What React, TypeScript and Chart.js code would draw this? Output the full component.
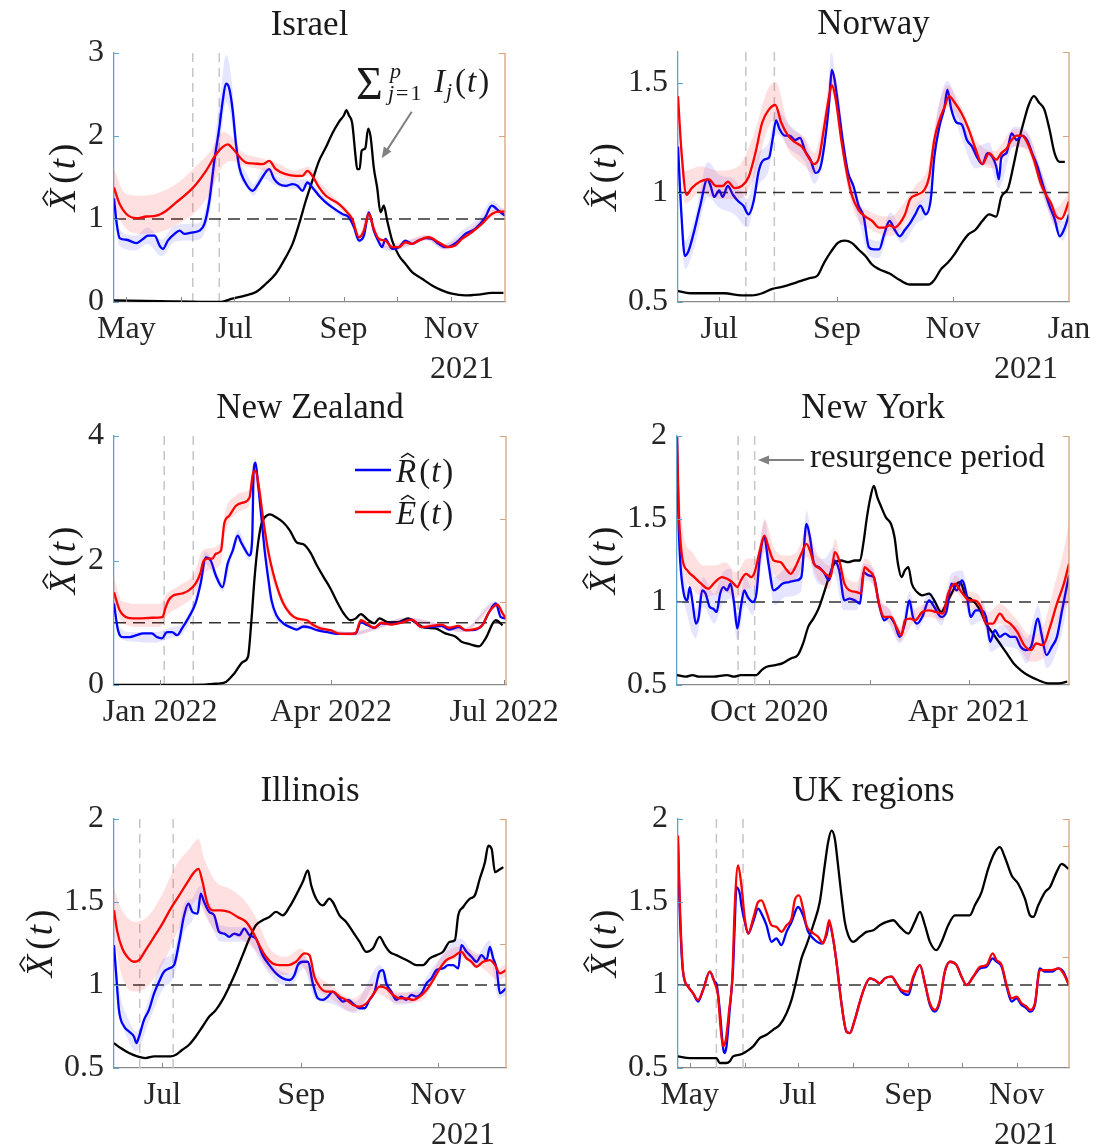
import { useEffect, useRef } from 'react';
import { Chart, registerables } from 'chart.js';

Chart.register(...registerables);

type Pt = [number, number];
type Band = [number, number, number];

// ---------- Israel (day 0 = 1 May 2021) ----------
const israelR: Pt[] = [
  [-7, 1.25], [-5.5, 0.95], [-3.8, 0.77], [0, 0.75], [5.6, 0.71], [9.4, 0.76], [12.2, 0.8], [16, 0.8],
  [18.8, 0.68], [20.7, 0.64], [23.5, 0.74], [27.3, 0.82], [30.1, 0.86], [32.9, 0.82], [37.6, 0.84],
  [41.4, 0.86], [44.2, 0.94], [47, 1.22], [49.8, 1.7], [52.7, 2.11], [54.6, 2.43], [56.4, 2.63],
  [58.3, 2.57], [60.2, 2.31], [62.1, 1.9], [64, 1.62], [66.8, 1.46], [71.5, 1.34], [75.2, 1.44],
  [78.1, 1.54], [80.9, 1.6], [83.7, 1.48], [86.5, 1.42], [90.3, 1.4], [94.1, 1.42], [96.9, 1.4],
  [99.7, 1.34], [102.5, 1.44], [105.3, 1.38], [109.1, 1.28], [112.9, 1.2], [116.6, 1.14], [122.3, 1.06],
  [126, 1.02], [128.9, 0.9], [131.7, 0.74], [134.5, 0.8], [137.3, 1.08], [140.1, 0.86], [143, 0.72],
  [144.8, 0.66], [146.7, 0.76], [150.5, 0.64], [154.3, 0.66], [158, 0.74], [161.8, 0.7], [165.5, 0.74],
  [169.3, 0.77], [173.1, 0.76], [176.8, 0.7], [180.6, 0.66], [184.3, 0.68], [188.1, 0.74], [191.9, 0.82],
  [197.5, 0.88], [203.2, 1.02], [206.9, 1.16], [210.7, 1.1], [214.4, 1.04],
];
const israelE: Pt[] = [
  [-7, 1.38], [-3.8, 1.18], [0, 1.06], [5.6, 1.01], [11.3, 1.03], [16.9, 1.04], [22.6, 1.1], [28.2, 1.2],
  [33.9, 1.3], [39.5, 1.42], [45.1, 1.58], [50.8, 1.78], [54.6, 1.87], [57.4, 1.9], [60.2, 1.85], [64, 1.75],
  [67.7, 1.68], [71.5, 1.67], [77.1, 1.66], [80.9, 1.7], [84.6, 1.6], [90.3, 1.54], [95.9, 1.52], [99.7, 1.52],
  [102.5, 1.58], [105.3, 1.52], [109.1, 1.38], [112.9, 1.28], [116.6, 1.23], [120.4, 1.18], [124.2, 1.1],
  [127.9, 1.0], [131.7, 0.78], [134.5, 0.86], [137.3, 1.06], [140.1, 0.88], [143, 0.76], [146.7, 0.74],
  [150.5, 0.66], [154.3, 0.66], [158, 0.72], [161.8, 0.7], [165.5, 0.74], [171.2, 0.78], [176.8, 0.72],
  [182.5, 0.66], [186.2, 0.68], [190, 0.76], [195.6, 0.84], [201.3, 0.94], [206.9, 1.06], [210.7, 1.09],
  [214.4, 1.09],
];
const israelI: Pt[] = [
  [-7, 0.02], [19, 0.01], [52.7, 0], [60, 0.04], [67.7, 0.08], [73.4, 0.12], [79, 0.22], [84.6, 0.34],
  [90.3, 0.54], [94.1, 0.7], [97.8, 0.94], [101.6, 1.22], [105.3, 1.46], [109.1, 1.7], [112.9, 1.86],
  [116.6, 2.03], [120.4, 2.17], [123.2, 2.25], [124.5, 2.31], [126, 2.25], [127.9, 2.15], [129.8, 1.75],
  [130.7, 1.6], [132.1, 1.6], [133.2, 1.82], [134.5, 1.84], [135.4, 1.86], [136.9, 2.09], [138.3, 1.99],
  [140.1, 1.62], [142, 1.38], [143.9, 1.08], [145.8, 1.16], [147.7, 0.98], [150.5, 0.74], [154.3, 0.56],
  [158, 0.46], [161.8, 0.36], [167.4, 0.28], [173.1, 0.2], [178.7, 0.14], [184.3, 0.1], [191.9, 0.08],
  [199.4, 0.09], [206.9, 0.11], [213.5, 0.11],
];
const israelEBand: Band[] = [
  [-7, 1.15, 1.6], [0, 0.88, 1.3], [10, 0.82, 1.28], [20, 0.85, 1.33], [30, 0.95, 1.45], [40, 1.1, 1.65],
  [47, 1.3, 1.8], [55, 1.65, 2.05], [60, 1.7, 1.98], [65, 1.65, 1.82], [75, 1.6, 1.74], [85, 1.53, 1.68],
  [95, 1.47, 1.58], [103, 1.52, 1.63], [110, 1.33, 1.43], [120, 1.14, 1.22], [128, 0.96, 1.04],
  [132, 0.75, 0.82], [137, 1.02, 1.1], [143, 0.73, 0.8], [150, 0.63, 0.7], [160, 0.68, 0.75],
  [170, 0.75, 0.81], [180, 0.63, 0.7], [190, 0.73, 0.8], [200, 0.9, 0.98], [207, 1.02, 1.11], [214.4, 1.05, 1.13],
];
const israelRBand: Band[] = [
  [-7, 1.05, 1.45], [-4, 0.68, 0.88], [5, 0.62, 0.8], [12, 0.7, 0.9], [20, 0.55, 0.75], [27, 0.72, 0.92],
  [35, 0.74, 0.94], [42, 0.76, 0.96], [47, 1.05, 1.4], [50, 1.5, 1.95], [53, 1.9, 2.45], [56.5, 2.4, 2.98],
  [58, 2.35, 2.9], [60, 2.1, 2.6], [62, 1.75, 2.1], [64, 1.52, 1.75], [68, 1.38, 1.55], [72, 1.28, 1.42],
  [78, 1.48, 1.62], [85, 1.4, 1.52], [95, 1.36, 1.47], [102, 1.38, 1.48], [110, 1.24, 1.32], [120, 1.04, 1.1],
  [128, 0.92, 0.97], [132, 0.71, 0.78], [137, 1.04, 1.12], [143, 0.69, 0.75], [150, 0.61, 0.67],
  [160, 0.67, 0.74], [170, 0.74, 0.8], [180, 0.63, 0.7], [190, 0.78, 0.86], [200, 0.93, 1.02],
  [207, 1.1, 1.22], [214.4, 1.0, 1.1],
];

// ---------- Norway (day 0 = 1 Jul 2020) ----------
const norwayR: Pt[] = [
  [-21.7, 1.21], [-19.9, 0.9], [-18.1, 0.71], [-16.3, 0.73], [-13.6, 0.81], [-10, 0.94], [-6.3, 1.06],
  [-4.5, 1.03], [-2.7, 0.98], [0, 1.01], [1.8, 0.98], [4.5, 1.03], [7.2, 0.99], [10, 0.96], [12.7, 0.94],
  [15.4, 0.9], [18.1, 0.96], [20.8, 1.1], [23.5, 1.15], [26.2, 1.16], [28, 1.24], [29.9, 1.33], [31.7, 1.29],
  [34.4, 1.26], [37.1, 1.26], [39.8, 1.24], [42.5, 1.25], [45.2, 1.19], [48, 1.15], [50.7, 1.09],
  [53.4, 1.12], [56.1, 1.27], [57.9, 1.42], [59.2, 1.56], [60.6, 1.52], [62.4, 1.41], [65.1, 1.23],
  [67.8, 1.09], [70.6, 1.03], [73.3, 0.94], [76, 0.89], [78.7, 0.75], [81.4, 0.74], [84.1, 0.74],
  [86.8, 0.81], [89.6, 0.87], [92.3, 0.83], [95, 0.8], [97.7, 0.83], [100.4, 0.86], [103.1, 0.9],
  [105.8, 0.94], [108.6, 0.9], [111.3, 0.97], [113.1, 1.16], [115.8, 1.3], [118.5, 1.39], [120, 1.47],
  [122.1, 1.38], [124.8, 1.32], [127.6, 1.31], [130.3, 1.24], [133, 1.21], [135.7, 1.16], [138.4, 1.13],
  [141.1, 1.18], [143.8, 1.16], [145.7, 1.12], [147.1, 1.06], [148.4, 1.16], [151.1, 1.18], [153.8, 1.27],
  [156.5, 1.24], [159.2, 1.26], [161.9, 1.24], [164.6, 1.18], [167.4, 1.12], [170.1, 1.04], [173.7, 0.94],
  [176.4, 0.88], [179.1, 0.8], [181.8, 0.84], [184, 0.9],
];
const norwayE: Pt[] = [
  [-21.7, 1.44], [-19.9, 1.19], [-17.2, 0.99], [-14.5, 1.02], [-10, 1.05], [-5.4, 1.06], [-1.8, 1.03],
  [1.8, 1.03], [4.5, 1.05], [8.1, 1.02], [11.8, 1.03], [15.4, 1.07], [19, 1.18], [22.6, 1.32], [26.2, 1.38],
  [29.5, 1.4], [32.6, 1.32], [36.2, 1.26], [39.8, 1.23], [43.4, 1.21], [47, 1.16], [49.8, 1.13], [52.5, 1.16],
  [55.2, 1.3], [57.4, 1.42], [59.2, 1.49], [61, 1.44], [64.2, 1.24], [66.9, 1.1], [69.7, 0.99], [73.3, 0.92],
  [76.9, 0.89], [80.5, 0.87], [84.1, 0.84], [86.8, 0.84], [89.6, 0.85], [92.3, 0.84], [95, 0.86],
  [97.7, 0.9], [100.4, 0.97], [104, 0.99], [107.7, 1.01], [110.4, 1.07], [113.1, 1.24], [115.8, 1.33],
  [118.5, 1.39], [120.9, 1.44], [123.9, 1.41], [127.6, 1.36], [131.2, 1.29], [134.8, 1.2], [138.4, 1.13],
  [142, 1.18], [145.7, 1.15], [148.4, 1.18], [151.1, 1.2], [153.8, 1.24], [156.5, 1.26], [159.2, 1.26],
  [161.9, 1.23], [165.5, 1.15], [169.2, 1.04], [171.9, 0.99], [174.6, 0.95], [177.3, 0.89], [180, 0.88],
  [184, 0.96],
];
const norwayI: Pt[] = [
  [-21.7, 0.55], [-15.4, 0.54], [-6.3, 0.54], [2.7, 0.54], [11.8, 0.53], [17.2, 0.53], [22.6, 0.54],
  [28, 0.56], [33.5, 0.57], [40.7, 0.59], [48, 0.61], [51.6, 0.62], [55.2, 0.68], [58.8, 0.73], [62.4, 0.77],
  [66, 0.78], [69.7, 0.77], [73.3, 0.74], [76.9, 0.71], [80.5, 0.67], [84.1, 0.65], [89.6, 0.63], [95, 0.6],
  [100.4, 0.58], [105.8, 0.58], [110.4, 0.58], [113.1, 0.6], [116.7, 0.65], [120.3, 0.68], [123.9, 0.72],
  [127.6, 0.77], [131.2, 0.81], [134.8, 0.83], [138.4, 0.87], [142, 0.9], [145.7, 0.89], [148.4, 0.98],
  [152, 1.02], [154.7, 1.12], [157.4, 1.23], [160.1, 1.32], [162.8, 1.4], [165.5, 1.44], [168.3, 1.41],
  [171, 1.38], [173.7, 1.29], [176.4, 1.18], [179.1, 1.14], [181.8, 1.14],
];
const norwayEBand: Band[] = [
  [-21.7, 1.35, 1.5], [-18, 0.95, 1.1], [-10, 1.0, 1.12], [0, 0.97, 1.1], [10, 0.97, 1.12], [18, 1.06, 1.26],
  [26, 1.3, 1.48], [30, 1.33, 1.5], [36, 1.2, 1.32], [45, 1.12, 1.25], [50, 1.08, 1.18], [55, 1.25, 1.35],
  [59, 1.45, 1.55], [62, 1.38, 1.5], [67, 1.05, 1.15], [72, 0.89, 0.98], [80, 0.83, 0.91], [90, 0.8, 0.89],
  [97, 0.85, 0.95], [103, 0.93, 1.03], [110, 1.02, 1.12], [115, 1.28, 1.38], [120, 1.39, 1.49],
  [127, 1.32, 1.4], [135, 1.16, 1.24], [145, 1.11, 1.19], [155, 1.21, 1.29], [162, 1.19, 1.27],
  [170, 1.0, 1.08], [177, 0.85, 0.93], [184, 0.92, 1.0],
];
const norwayRBand: Band[] = [
  [-21.7, 1.1, 1.3], [-18, 0.65, 0.78], [-13, 0.75, 0.88], [-6, 0.98, 1.14], [0, 0.93, 1.08], [8, 0.9, 1.06],
  [15, 0.84, 0.97], [20, 1.02, 1.17], [26, 1.1, 1.23], [30, 1.27, 1.38], [37, 1.2, 1.31], [45, 1.14, 1.24],
  [50, 1.04, 1.14], [56, 1.22, 1.32], [59, 1.5, 1.64], [62, 1.36, 1.46], [67, 1.05, 1.13], [73, 0.89, 0.98],
  [79, 0.71, 0.79], [84, 0.7, 0.78], [90, 0.83, 0.91], [96, 0.77, 0.84], [104, 0.86, 0.95], [110, 0.92, 1.02],
  [114, 1.2, 1.32], [120, 1.42, 1.51], [127, 1.26, 1.36], [135, 1.11, 1.21], [142, 1.13, 1.23],
  [147, 1.02, 1.1], [155, 1.21, 1.3], [162, 1.2, 1.28], [170, 0.99, 1.09], [177, 0.83, 0.92],
  [181, 0.78, 0.87], [184, 0.86, 0.94],
];

// ---------- New Zealand (day 0 = 1 Jan 2022) ----------
const nzR: Pt[] = [
  [-24.3, 1.31], [-22.2, 0.88], [-19.5, 0.77], [-16, 0.77], [-12.4, 0.8], [-8.9, 0.83], [-4.4, 0.83],
  [-1.8, 0.77], [0.9, 0.75], [3.6, 0.85], [6.2, 0.85], [8.9, 0.8], [11.5, 0.91], [15.1, 1.09], [18.6, 1.31],
  [21.3, 1.63], [24, 2.05], [26.6, 2.0], [29.3, 1.76], [32.8, 1.57], [35.5, 1.95], [38.2, 2.16], [40.8, 2.4],
  [42.6, 2.29], [44.4, 2.19], [47, 2.08], [48.4, 2.32], [49.2, 3.44], [50.2, 3.57], [51.5, 3.23],
  [53.3, 2.69], [55, 2.16], [56.8, 1.73], [58.6, 1.36], [61.2, 1.12], [64.8, 0.99], [68.3, 0.93],
  [71.9, 0.89], [75.4, 0.94], [79, 0.92], [82.5, 0.88], [87.9, 0.85], [93.2, 0.82], [100.3, 0.82],
  [103, 0.83], [105.6, 1.01], [109.2, 0.96], [112.7, 0.92], [116.3, 0.99], [121.6, 0.98], [126.9, 1.01],
  [132.3, 1.05], [137.6, 0.93], [142.9, 0.93], [148.2, 0.95], [151.8, 0.89], [157.1, 0.93], [160.7, 0.88],
  [164.2, 0.88], [169.5, 0.96], [173.1, 1.17], [176.6, 1.31], [179.3, 1.09], [182, 1.07],
];
const nzE: Pt[] = [
  [-24.3, 1.49], [-21.3, 1.2], [-16.9, 1.08], [-11.5, 1.07], [-4.4, 1.08], [1.2, 1.09], [2.7, 1.23],
  [4.4, 1.36], [7.1, 1.44], [11.5, 1.47], [15.1, 1.52], [18.6, 1.63], [21.3, 1.81], [22.5, 1.97],
  [24.9, 2.03], [27.5, 2.03], [29.3, 2.11], [32, 2.16], [33.7, 2.59], [36.4, 2.72], [39.9, 2.88],
  [43.5, 2.93], [47, 3.01], [48.8, 3.39], [50.2, 3.44], [52, 3.17], [54.1, 2.69], [56.8, 2.16], [59.5, 1.79],
  [62.1, 1.52], [64.8, 1.31], [68.3, 1.15], [71.9, 1.07], [77.2, 1.04], [80.8, 0.96], [84.3, 0.91],
  [89.6, 0.88], [95, 0.82], [100.3, 0.82], [103, 0.84], [105.6, 1.04], [110.1, 0.96], [112.7, 0.92],
  [116.3, 1.0], [121.6, 0.97], [126.9, 1.0], [132.3, 1.05], [137.6, 0.93], [142.9, 0.95], [148.2, 0.97],
  [151.8, 0.92], [157.1, 0.95], [160.7, 0.88], [164.2, 0.89], [169.5, 0.96], [173.1, 1.17], [177.5, 1.29],
  [180.2, 1.15], [182, 1.07],
];
const nzI: Pt[] = [
  [-24.3, 0], [17, 0], [29.3, 0.02], [34.6, 0.05], [39.1, 0.19], [43.5, 0.37], [46.2, 0.45], [47.9, 0.99],
  [49.7, 1.73], [51.5, 2.27], [53.3, 2.59], [55, 2.69], [57.7, 2.74], [61.2, 2.69], [64.8, 2.61],
  [68.3, 2.48], [71.9, 2.29], [75.4, 2.26], [79, 2.13], [82.5, 1.92], [86.1, 1.73], [89.6, 1.55],
  [93.2, 1.33], [96.8, 1.14], [100.3, 1.04], [103, 1.07], [105.6, 1.14], [109.2, 1.05], [112.7, 0.99],
  [115.4, 1.07], [119.8, 1.01], [125.2, 1.01], [130.5, 1.07], [134, 1.01], [139.4, 0.92], [144.7, 0.91],
  [150, 0.83], [155.3, 0.78], [158.9, 0.69], [162.4, 0.66], [167.8, 0.62], [171.3, 0.75], [176.6, 1.04],
  [180.2, 0.96],
];
const nzEBand: Band[] = [
  [-24.3, 1.3, 1.72], [-20, 1.0, 1.35], [-10, 0.93, 1.3], [0, 0.93, 1.3], [3, 1.1, 1.45], [10, 1.25, 1.6],
  [18, 1.45, 1.8], [22, 1.75, 2.15], [26, 1.85, 2.2], [32, 1.95, 2.3], [34, 2.4, 2.75], [40, 2.75, 3.05],
  [44, 2.82, 3.1], [47, 2.9, 3.15], [49, 3.25, 3.55], [52, 3.05, 3.3], [56, 2.05, 2.3], [62, 1.45, 1.6],
  [70, 1.05, 1.15], [80, 0.93, 1.0], [100, 0.79, 0.85], [130, 1.02, 1.08], [160, 0.85, 0.91],
  [177, 1.25, 1.33], [182, 1.03, 1.1],
];
const nzRBand: Band[] = [
  [-24.3, 1.2, 1.45], [-22, 0.8, 0.96], [-15, 0.7, 0.85], [-2, 0.68, 0.85], [5, 0.75, 0.92], [12, 0.83, 1.0],
  [18, 1.2, 1.4], [24, 1.95, 2.15], [29, 1.7, 1.85], [33, 1.5, 1.65], [38, 2.08, 2.25], [41, 2.3, 2.5],
  [47, 2.0, 2.15], [50, 3.45, 3.65], [53, 2.6, 2.8], [58, 1.3, 1.45], [65, 0.95, 1.03], [80, 0.89, 0.95],
  [100, 0.79, 0.85], [130, 1.02, 1.08], [160, 0.85, 0.91], [176, 1.27, 1.35], [182, 1.03, 1.1],
];

// ---------- New York (day 0 = 1 Oct 2020) ----------
const nyR: Pt[] = [
  [-84, 2.0], [-82.5, 1.47], [-80.9, 1.23], [-77.8, 1.05], [-74.6, 1.01], [-72.4, 1.09], [-69.9, 1.0],
  [-66.8, 0.87], [-64.2, 0.91], [-61.1, 1.07], [-57.9, 1.05], [-54.2, 0.97], [-51, 0.96], [-47.9, 0.94],
  [-44.7, 1.05], [-41.6, 1.09], [-38.4, 1.07], [-35.3, 1.11], [-32.1, 1.0], [-29, 0.84], [-25.8, 0.97],
  [-22.7, 1.07], [-19.5, 1.03], [-14.8, 1.0], [-11.6, 1.05], [-8.5, 1.27], [-4.4, 1.39], [-0.6, 1.23],
  [4.1, 1.07], [8.8, 1.09], [12, 1.11], [18.3, 1.12], [24.6, 1.13], [29.3, 1.15], [34, 1.47], [37.2, 1.39],
  [40.9, 1.23], [45, 1.21], [49.7, 1.18], [54.5, 1.13], [59.2, 1.25], [63.9, 1.19], [68.6, 1.01],
  [73.4, 1.02], [78.1, 1.01], [82.8, 0.99], [86, 1.18], [90.7, 1.16], [95.4, 1.15], [100.1, 0.99],
  [104.8, 0.89], [109.6, 0.91], [114.3, 0.87], [119, 0.79], [123.7, 0.87], [127.8, 1.01], [131, 0.91],
  [134.8, 0.87], [139.5, 0.91], [145.8, 1.01], [150.5, 0.97], [156.8, 0.91], [161.5, 0.94], [166.2, 1.11],
  [171, 1.07], [175.7, 1.13], [180.4, 1.03], [183.6, 0.91], [188.3, 0.95], [193, 0.95], [197.7, 0.91],
  [201.5, 0.76], [205.6, 0.83], [210.3, 0.79], [215.1, 0.81], [219.8, 0.79], [224.5, 0.79], [229.2, 0.73],
  [233.9, 0.71], [238.7, 0.73], [245, 0.9], [248.1, 0.81], [252.8, 0.68], [257.6, 0.73], [262.3, 0.79],
  [267, 0.95], [273.3, 1.16],
];
const nyE: Pt[] = [
  [-84, 2.0], [-82.5, 1.57], [-79.3, 1.27], [-74.6, 1.19], [-68.3, 1.15], [-62, 1.11], [-55.7, 1.08],
  [-49.4, 1.12], [-43.1, 1.15], [-38.4, 1.14], [-33.7, 1.12], [-29, 1.09], [-25.8, 1.13], [-21.1, 1.17],
  [-16.4, 1.15], [-13.2, 1.18], [-8.5, 1.31], [-4.4, 1.4], [-0.6, 1.33], [4.1, 1.25], [10.4, 1.24],
  [15.1, 1.2], [19.8, 1.17], [24.6, 1.22], [29.3, 1.29], [34, 1.35], [37.2, 1.31], [40.9, 1.23],
  [46.6, 1.2], [51.3, 1.17], [56, 1.15], [59.8, 1.3], [63.9, 1.25], [68.6, 1.11], [73.4, 1.07], [79.7, 1.06],
  [83.8, 1.05], [86.9, 1.21], [90.7, 1.19], [95.4, 1.15], [100.1, 0.99], [104.8, 0.91], [111.1, 0.91],
  [115.9, 0.85], [120.6, 0.8], [123.7, 0.89], [128.5, 0.9], [133.2, 0.89], [139.5, 0.94], [145.8, 0.95],
  [152.1, 0.94], [158.4, 0.93], [163.1, 1.05], [169.4, 1.11], [174.1, 1.07], [178.8, 1.03], [182, 1.01],
  [186.7, 1.01], [193, 0.97], [197.7, 0.87], [204, 0.87], [210.3, 0.93], [215.1, 0.89], [219.8, 0.87],
  [226.1, 0.82], [232.4, 0.74], [238.7, 0.71], [243.4, 0.75], [249.7, 0.74], [256, 0.85], [262.3, 0.99],
  [268.6, 1.11], [273.3, 1.23],
];
const nyI: Pt[] = [
  [-84, 0.56], [-76, 0.55], [-70, 0.56], [-64, 0.55], [-51, 0.55], [-38.4, 0.56], [-32.1, 0.55],
  [-25.8, 0.56], [-16.4, 0.56], [-11.6, 0.56], [-6.9, 0.59], [-2.2, 0.61], [5.7, 0.62], [12, 0.63],
  [19.8, 0.66], [26.1, 0.68], [30.9, 0.75], [35.6, 0.85], [40.3, 0.9], [45, 0.96], [49.7, 1.05],
  [54.5, 1.15], [59.2, 1.23], [65.5, 1.25], [71.8, 1.24], [78.1, 1.25], [82.8, 1.25], [86, 1.36],
  [89.1, 1.51], [92.3, 1.63], [95.4, 1.7], [98.6, 1.63], [101.7, 1.58], [106.4, 1.51], [111.1, 1.47],
  [114.3, 1.39], [117.4, 1.23], [120.6, 1.15], [123.7, 1.19], [126.9, 1.21], [130, 1.11], [134.8, 1.06],
  [139.5, 1.04], [145.8, 1.05], [150.5, 1.01], [156.8, 0.94], [161.5, 0.99], [166.2, 1.05], [171, 1.11],
  [174.1, 1.12], [178.8, 1.04], [183.6, 1.02], [188.3, 0.99], [193, 0.94], [197.7, 0.87], [204, 0.81],
  [210.3, 0.75], [216.6, 0.69], [222.9, 0.63], [229.2, 0.59], [235.5, 0.56], [245, 0.53], [254.4, 0.51],
  [263.9, 0.51], [271.7, 0.52],
];
const nyEBand: Band[] = [
  [-84, 1.9, 2.0], [-82, 1.45, 1.7], [-78, 1.18, 1.4], [-70, 1.08, 1.3], [-60, 1.03, 1.22], [-50, 1.04, 1.22],
  [-40, 1.06, 1.24], [-30, 1.02, 1.18], [-20, 1.08, 1.26], [-12, 1.1, 1.26], [-4, 1.32, 1.5], [4, 1.17, 1.33],
  [15, 1.12, 1.28], [25, 1.14, 1.3], [34, 1.27, 1.43], [45, 1.13, 1.28], [55, 1.08, 1.22], [60, 1.22, 1.38],
  [68, 1.04, 1.18], [80, 1.0, 1.12], [87, 1.15, 1.26], [95, 1.1, 1.2], [100, 0.95, 1.04], [110, 0.87, 0.96],
  [120, 0.76, 0.85], [130, 0.86, 0.94], [145, 0.91, 0.99], [158, 0.89, 0.97], [170, 1.06, 1.16],
  [180, 0.97, 1.07], [190, 0.95, 1.05], [200, 0.82, 0.94], [210, 0.87, 0.99], [225, 0.76, 0.9],
  [238, 0.64, 0.8], [250, 0.66, 0.86], [260, 0.84, 1.1], [268, 0.95, 1.3], [273.3, 1.0, 1.48],
];
const nyRBand: Band[] = [
  [-84, 1.9, 2.0], [-82, 1.35, 1.6], [-80, 1.12, 1.32], [-75, 0.93, 1.1], [-67, 0.78, 0.95], [-60, 0.97, 1.15],
  [-50, 0.87, 1.05], [-42, 0.99, 1.18], [-35, 1.02, 1.2], [-29, 0.77, 0.93], [-22, 0.98, 1.15],
  [-15, 0.92, 1.08], [-8, 1.18, 1.37], [-4, 1.3, 1.49], [0, 1.14, 1.32], [5, 0.98, 1.15], [15, 1.03, 1.2],
  [29, 1.06, 1.24], [34, 1.4, 1.55], [41, 1.15, 1.3], [50, 1.1, 1.26], [59, 1.17, 1.33], [68, 0.95, 1.08],
  [80, 0.95, 1.07], [86, 1.13, 1.23], [95, 1.1, 1.2], [100, 0.95, 1.03], [110, 0.86, 0.95], [119, 0.75, 0.83],
  [128, 0.96, 1.06], [135, 0.83, 0.91], [146, 0.96, 1.06], [157, 0.86, 0.96], [166, 1.05, 1.17],
  [176, 1.07, 1.19], [184, 0.86, 0.96], [195, 0.89, 1.0], [202, 0.7, 0.82], [212, 0.73, 0.86],
  [225, 0.72, 0.86], [235, 0.63, 0.78], [245, 0.82, 0.98], [253, 0.6, 0.76], [262, 0.7, 0.88],
  [268, 0.85, 1.05], [273.3, 1.04, 1.28],
];

// ---------- Illinois (day 0 = 1 Jul 2021) ----------
const ilR: Pt[] = [
  [-21.6, 1.24], [-20.6, 1.06], [-19.4, 0.85], [-17.1, 0.75], [-14.9, 0.72], [-12.7, 0.69], [-11.6, 0.65],
  [-10.4, 0.69], [-8.2, 0.79], [-6, 0.85], [-3.7, 0.95], [-1.5, 1.02], [0.7, 1.08], [3, 1.1], [5.2, 1.12],
  [7.5, 1.26], [9.7, 1.42], [11.6, 1.49], [13.4, 1.44], [15.7, 1.43], [17.1, 1.55], [18.6, 1.5], [20.9, 1.44],
  [23.1, 1.42], [25.3, 1.32], [27.6, 1.31], [29.8, 1.29], [32.1, 1.31], [34.3, 1.3], [36.5, 1.34],
  [38.8, 1.3], [41.7, 1.28], [44.7, 1.18], [47.7, 1.12], [50.7, 1.07], [53.7, 1.04], [56.7, 1.03],
  [58.9, 1.06], [60.4, 1.12], [62.6, 1.14], [64.9, 1.14], [67.1, 1.01], [69.3, 0.92], [71.6, 0.91],
  [73.8, 0.93], [76, 0.96], [78.3, 0.93], [80.5, 0.9], [82.8, 0.91], [85.7, 0.88], [88, 0.86], [90.2, 0.86],
  [92.4, 0.91], [94.7, 0.96], [96.9, 1.08], [98.4, 1.09], [99.9, 1.01], [102.1, 0.96], [104.4, 0.91],
  [106.6, 0.93], [108.8, 0.91], [111.1, 0.94], [113.3, 0.93], [115.6, 0.95], [117.8, 1.01], [120, 1.04],
  [122.3, 1.09], [125.2, 1.1], [127.5, 1.12], [129.7, 1.12], [132, 1.1], [133.4, 1.24], [135.7, 1.2],
  [137.9, 1.17], [140.1, 1.14], [142.4, 1.18], [144.6, 1.15], [146.1, 1.23], [147.6, 1.16], [149.1, 1.1],
  [150.6, 0.95], [153.3, 0.98],
];
const ilE: Pt[] = [
  [-21.6, 1.45], [-20.1, 1.32], [-17.9, 1.22], [-15.7, 1.17], [-12.7, 1.14], [-10.4, 1.15], [-7.5, 1.21],
  [-3.7, 1.29], [0, 1.37], [3.7, 1.46], [7.5, 1.54], [11.2, 1.62], [14.2, 1.68], [16.1, 1.7], [17.9, 1.62],
  [20.1, 1.49], [22.4, 1.45], [26.1, 1.45], [29.8, 1.44], [33.5, 1.41], [37.3, 1.38], [40.3, 1.32],
  [43.2, 1.24], [46.2, 1.17], [49.2, 1.13], [52.2, 1.12], [55.9, 1.12], [59.6, 1.14], [63.4, 1.19],
  [65.6, 1.18], [67.8, 1.05], [70.1, 0.99], [73.1, 0.96], [76, 0.96], [79, 0.93], [82, 0.91], [85, 0.88],
  [88, 0.87], [91, 0.89], [93.9, 0.94], [96.9, 0.99], [99.9, 0.98], [102.9, 0.94], [105.9, 0.92],
  [108.8, 0.92], [111.8, 0.91], [114.8, 0.93], [117.8, 0.97], [120.8, 1.03], [123.8, 1.1], [126.7, 1.15],
  [129.7, 1.17], [133.4, 1.2], [135.7, 1.16], [137.9, 1.14], [140.1, 1.11], [143.1, 1.14], [146.1, 1.15],
  [148.4, 1.12], [150.6, 1.07], [153.3, 1.09],
];
const ilI: Pt[] = [
  [-21.6, 0.65], [-18.6, 0.62], [-14.9, 0.59], [-11.2, 0.57], [-7.5, 0.56], [-3.7, 0.57], [0, 0.57],
  [3.7, 0.57], [6, 0.58], [8.9, 0.61], [11.9, 0.64], [14.9, 0.69], [17.9, 0.75], [20.9, 0.81], [23.9, 0.85],
  [26.8, 0.91], [29.8, 0.99], [32.8, 1.08], [35.8, 1.18], [38.8, 1.28], [41.7, 1.36], [44.7, 1.39],
  [47.7, 1.41], [50.7, 1.44], [53.7, 1.42], [56.7, 1.47], [59.6, 1.54], [62.6, 1.62], [64.9, 1.69],
  [66.4, 1.6], [68.6, 1.52], [71.6, 1.48], [74.5, 1.52], [76, 1.5], [79, 1.42], [82, 1.38], [85, 1.32],
  [88, 1.26], [91, 1.2], [93.9, 1.22], [96.9, 1.29], [99.2, 1.24], [101.4, 1.2], [104.4, 1.18],
  [107.4, 1.16], [110.3, 1.14], [113.3, 1.12], [116.3, 1.12], [119.3, 1.16], [122.3, 1.18], [125.2, 1.2],
  [128.2, 1.26], [130.5, 1.27], [132, 1.42], [134.2, 1.47], [137.2, 1.52], [139.4, 1.54], [141.6, 1.64],
  [143.9, 1.74], [145.4, 1.84], [146.9, 1.82], [148.4, 1.68], [149.8, 1.69], [152.1, 1.71],
];
const ilEBand: Band[] = [
  [-21.6, 1.3, 1.58], [-18, 1.05, 1.45], [-12, 0.96, 1.38], [-6, 1.0, 1.42], [0, 1.12, 1.55], [6, 1.3, 1.72],
  [12, 1.45, 1.82], [16, 1.52, 1.88], [19, 1.42, 1.75], [24, 1.32, 1.62], [30, 1.3, 1.58], [36, 1.27, 1.52],
  [42, 1.2, 1.4], [48, 1.08, 1.22], [55, 1.06, 1.17], [62, 1.12, 1.22], [67, 1.0, 1.09], [75, 0.92, 1.0],
  [85, 0.84, 0.92], [95, 0.95, 1.02], [105, 0.89, 0.96], [115, 0.9, 0.96], [125, 1.11, 1.18],
  [133, 1.16, 1.23], [143, 1.1, 1.17], [150, 1.03, 1.1], [153.3, 1.05, 1.13],
];
const ilRBand: Band[] = [
  [-21.6, 1.1, 1.35], [-20, 0.9, 1.05], [-15, 0.66, 0.79], [-11.6, 0.6, 0.72], [-6, 0.78, 0.92],
  [0, 0.97, 1.15], [5, 1.05, 1.2], [10, 1.33, 1.5], [13, 1.38, 1.52], [17, 1.48, 1.6], [21, 1.38, 1.5],
  [26, 1.26, 1.36], [32, 1.26, 1.35], [38, 1.26, 1.35], [44, 1.14, 1.22], [50, 1.03, 1.11], [57, 0.99, 1.07],
  [63, 1.1, 1.18], [68, 0.92, 1.0], [75, 0.89, 0.97], [86, 0.83, 0.9], [97, 1.04, 1.12], [104, 0.88, 0.95],
  [113, 0.9, 0.97], [122, 1.06, 1.13], [133, 1.2, 1.28], [140, 1.1, 1.18], [146, 1.19, 1.27],
  [150, 0.92, 1.0], [153.3, 0.94, 1.02],
];

// ---------- UK regions (day 0 = 1 May 2021) ----------
const ukR: Pt[] = [
  [-6.6, 1.85], [-5.6, 1.45], [-3.8, 1.08], [-0.9, 0.99], [1.9, 0.95], [4.7, 0.9], [7.5, 0.97], [11.3, 1.08],
  [14.1, 1.02], [15, 1.01], [16.9, 0.85], [18.8, 0.62], [19.7, 0.59], [20.7, 0.63], [22.5, 0.85],
  [24.4, 1.1], [25.3, 1.35], [26.3, 1.59], [28.2, 1.55], [29.1, 1.48], [31, 1.38], [32.9, 1.31],
  [35.7, 1.38], [38.5, 1.46], [40.4, 1.43], [43.2, 1.36], [46, 1.26], [48.8, 1.28], [51.6, 1.24],
  [54.5, 1.32], [57.3, 1.38], [61, 1.47], [63.8, 1.42], [66.7, 1.32], [69.5, 1.28], [74.2, 1.25],
  [77, 1.3], [78.5, 1.37], [80.7, 1.28], [82.6, 1.14], [85.4, 0.89], [88.2, 0.72], [90.1, 0.71],
  [92.9, 0.79], [95.8, 0.9], [98.6, 0.99], [101.4, 1.04], [104.2, 1.03], [107, 1.01], [109.8, 1.04],
  [113.6, 1.05], [116.4, 1.01], [119.2, 0.96], [123, 0.94], [125.8, 1.04], [129.6, 1.12], [132.4, 1.01],
  [135.2, 0.88], [138, 0.84], [140.8, 0.9], [143.6, 1.08], [146.5, 1.14], [150.2, 1.12], [153, 1.05],
  [155.8, 1.0], [159.6, 1.05], [163.4, 1.1], [167.1, 1.11], [170.5, 1.16], [172.7, 1.14], [175.6, 1.11],
  [178.4, 0.99], [181.2, 0.9], [184, 0.92], [186.8, 0.88], [189.6, 0.86], [191.5, 0.84], [194.3, 0.88],
  [197.1, 1.1], [200, 1.08], [203.7, 1.08], [207.5, 1.1], [210.3, 1.08], [213.5, 1.0],
];
const ukE: Pt[] = [
  [-6.6, 1.9], [-5.6, 1.5], [-3.8, 1.09], [-0.9, 0.99], [1.9, 0.95], [4.7, 0.91], [7.5, 0.97], [11.3, 1.08],
  [14.1, 1.01], [16, 0.93], [17.3, 0.75], [18.8, 0.63], [20.3, 0.67], [22.2, 0.85], [24, 1.05], [25.3, 1.46],
  [27.2, 1.72], [29.1, 1.6], [31, 1.4], [32.9, 1.31], [35.7, 1.4], [38.5, 1.5], [40.4, 1.51], [43.2, 1.44],
  [46, 1.36], [48.8, 1.35], [51.6, 1.32], [54.5, 1.36], [57.3, 1.4], [59.1, 1.51], [61.6, 1.54],
  [63.8, 1.46], [65.7, 1.36], [68.5, 1.32], [72.3, 1.29], [75.1, 1.25], [77, 1.32], [78.5, 1.39],
  [80.7, 1.28], [82.6, 1.14], [85.4, 0.89], [88.2, 0.72], [90.1, 0.71], [92.9, 0.79], [95.8, 0.9],
  [98.6, 0.99], [101.4, 1.04], [104.2, 1.03], [107, 1.01], [109.8, 1.04], [113.6, 1.05], [116.4, 1.01],
  [119.2, 0.97], [123, 0.96], [125.8, 1.05], [129.6, 1.12], [132.4, 1.01], [135.2, 0.89], [138, 0.85],
  [140.8, 0.91], [143.6, 1.08], [146.5, 1.14], [150.2, 1.12], [153, 1.05], [155.8, 1.0], [159.6, 1.05],
  [163.4, 1.11], [167.1, 1.12], [170.5, 1.19], [172.7, 1.15], [175.6, 1.12], [178.4, 1.0], [181.2, 0.92],
  [184, 0.93], [186.8, 0.89], [189.6, 0.87], [191.5, 0.85], [194.3, 0.89], [197.1, 1.09], [200, 1.09],
  [203.7, 1.09], [207.5, 1.1], [210.3, 1.07], [213.5, 1.0],
];
const ukI: Pt[] = [
  [-6.6, 0.57], [0, 0.56], [5.6, 0.56], [11.3, 0.56], [15, 0.56], [16.9, 0.53], [20.7, 0.53], [22.5, 0.54],
  [24.4, 0.57], [28.2, 0.58], [31.9, 0.6], [35.7, 0.63], [39.4, 0.68], [43.2, 0.7], [46.9, 0.73],
  [50.7, 0.76], [54.5, 0.83], [57.3, 0.91], [60.1, 1.03], [62.9, 1.16], [65.7, 1.24], [69.5, 1.36],
  [73.2, 1.5], [76, 1.72], [77.9, 1.86], [79.8, 1.93], [81.7, 1.88], [83.5, 1.72], [85.4, 1.54],
  [87.3, 1.38], [89.2, 1.3], [92, 1.26], [95.8, 1.29], [99.5, 1.32], [103.3, 1.33], [107, 1.36],
  [110.8, 1.38], [114.5, 1.39], [118.3, 1.35], [123, 1.31], [126.7, 1.38], [129.6, 1.44], [132.4, 1.36],
  [135.2, 1.26], [138.9, 1.21], [141.8, 1.26], [145.5, 1.36], [149.3, 1.42], [154, 1.42], [157.7, 1.42],
  [160.5, 1.48], [164.3, 1.56], [168, 1.7], [171.8, 1.8], [174.6, 1.83], [177.4, 1.77], [181.2, 1.66],
  [184.9, 1.61], [188.7, 1.52], [191.5, 1.42], [193.4, 1.41], [196.2, 1.48], [200, 1.56], [202.8, 1.59],
  [206.5, 1.68], [209.4, 1.73], [213.1, 1.7],
];

const MONTHS_ODD = ['May', '', 'Jul', '', 'Sep', '', 'Nov'];

const SERIF = '"Liberation Serif", "Times New Roman", serif';
const INK = '#1a1a1a';
const TICK_INK = '#262626';
const LEFT_AXIS = '#5fa3cf';
const RIGHT_AXIS = '#d9a27c';
const BOTTOM_AXIS = '#8a8a8a';
const TICK_SIZE = 32;

type Piece = { t: string; it?: boolean; hat?: boolean; size?: number; dy?: number; gap?: number };

function drawPieces(ctx: CanvasRenderingContext2D, x: number, y: number, base: number, pieces: Piece[], dry = false) {
  let cx = x;
  ctx.textAlign = 'left';
  ctx.textBaseline = 'alphabetic';
  for (const p of pieces) {
    const s = p.size ?? base;
    ctx.font = `${p.it ? 'italic ' : ''}${s}px ${SERIF}`;
    const w = ctx.measureText(p.t).width;
    if (!dry) {
      const by = y + (p.dy ?? 0);
      ctx.fillText(p.t, cx, by);
      if (p.hat) {
        const mid = cx + w * 0.58;
        const base2 = by - 0.7 * s;
        ctx.save();
        ctx.lineWidth = Math.max(1.2, s * 0.045);
        ctx.strokeStyle = ctx.fillStyle as string;
        ctx.beginPath();
        ctx.moveTo(mid - 0.2 * s, base2 - 0.04 * s);
        ctx.lineTo(mid, base2 - 0.17 * s);
        ctx.lineTo(mid + 0.2 * s, base2 - 0.04 * s);
        ctx.stroke();
        ctx.restore();
      }
    }
    cx += w + (p.gap ?? 0);
  }
  return cx - x;
}

function arrow(ctx: CanvasRenderingContext2D, x1: number, y1: number, x2: number, y2: number, color: string) {
  const ang = Math.atan2(y2 - y1, x2 - x1);
  const hl = 11;
  const hw = 4.5;
  ctx.save();
  ctx.strokeStyle = color;
  ctx.fillStyle = color;
  ctx.lineWidth = 2;
  ctx.beginPath();
  ctx.moveTo(x1, y1);
  ctx.lineTo(x2 - Math.cos(ang) * hl * 0.8, y2 - Math.sin(ang) * hl * 0.8);
  ctx.stroke();
  ctx.beginPath();
  ctx.moveTo(x2, y2);
  ctx.lineTo(x2 - Math.cos(ang) * hl - Math.sin(ang) * hw, y2 - Math.sin(ang) * hl + Math.cos(ang) * hw);
  ctx.lineTo(x2 - Math.cos(ang) * hl + Math.sin(ang) * hw, y2 - Math.sin(ang) * hl - Math.cos(ang) * hw);
  ctx.closePath();
  ctx.fill();
  ctx.restore();
}

const SUM_LABEL = 'Σ';
const RESURGENCE_LABEL = 'resurgence period';

function drawSumNote(ctx: CanvasRenderingContext2D) {
  ctx.fillStyle = INK;
  ctx.textAlign = 'left';
  ctx.textBaseline = 'alphabetic';
  ctx.font = `46px ${SERIF}`;
  ctx.fillText(SUM_LABEL, 356, 99);
  drawPieces(ctx, 390, 78, 22, [{ t: 'p', it: true }]);
  drawPieces(ctx, 388, 100, 22, [{ t: 'j', it: true, gap: 2 }, { t: '=', gap: 2 }, { t: '1' }]);
  drawPieces(ctx, 434, 92, 33, [
    { t: 'I', it: true, gap: 1 },
    { t: 'j', it: true, size: 22, dy: 6, gap: 3 },
    { t: '(', gap: 1 },
    { t: 't', it: true, gap: 2 },
    { t: ')' },
  ]);
  arrow(ctx, 411.7, 111.7, 381.7, 158.3, '#808080');
}

function drawLegendNote(ctx: CanvasRenderingContext2D) {
  const rows: [string, string, number][] = [
    ['#0000ff', 'R', 470],
    ['#ff0000', 'E', 512],
  ];
  for (const [color, letter, y] of rows) {
    ctx.save();
    ctx.strokeStyle = color;
    ctx.lineWidth = 2.4;
    ctx.beginPath();
    ctx.moveTo(355, y);
    ctx.lineTo(391, y);
    ctx.stroke();
    ctx.restore();
    ctx.fillStyle = INK;
    drawPieces(ctx, 396, y + 12, 33, [
      { t: letter, it: true, hat: true, gap: 3 },
      { t: '(', gap: 1 },
      { t: 't', it: true, gap: 2 },
      { t: ')' },
    ]);
  }
}

function drawResurgenceNote(ctx: CanvasRenderingContext2D) {
  arrow(ctx, 804, 460, 758, 460, '#808080');
  ctx.fillStyle = INK;
  ctx.textAlign = 'left';
  ctx.textBaseline = 'alphabetic';
  ctx.font = `33px ${SERIF}`;
  ctx.fillText(RESURGENCE_LABEL, 810, 467);
}

interface PanelSpec {
  title: string;
  box: [number, number, number, number];
  canvas: [number, number, number, number];
  xRange: [number, number];
  xTicks: number[];
  xLabels: string[];
  year?: string;
  yRange: [number, number];
  yTicks: number[];
  yLabelGap: number;
  rightTicks: number[];
  resurgence: number[];
  R: Pt[];
  E: Pt[];
  I: Pt[];
  RBand?: Band[];
  EBand?: Band[];
  note?: (ctx: CanvasRenderingContext2D) => void;
}

const panels: PanelSpec[] = [
  {
    title: 'Israel', box: [114, 53, 505, 302], canvas: [0, 0, 575, 385],
    xRange: [-7, 214.4], xTicks: [0, 31, 61, 92, 123, 153, 184], xLabels: MONTHS_ODD, year: '2021',
    yRange: [0, 3], yTicks: [0, 1, 2, 3], yLabelGap: 51, rightTicks: [2],
    resurgence: [37.6, 52.6], R: israelR, E: israelE, I: israelI, RBand: israelRBand, EBand: israelEBand,
    note: drawSumNote,
  },
  {
    title: 'Norway', box: [678, 52, 1069, 302], canvas: [560, 0, 550, 385],
    xRange: [-21.7, 184], xTicks: [0, 62, 123, 184], xLabels: ['Jul', 'Sep', 'Nov', 'Jan'], year: '2021',
    yRange: [0.5, 1.642], yTicks: [0.5, 1, 1.5], yLabelGap: 74, rightTicks: [1.26],
    resurgence: [14, 29], R: norwayR, E: norwayE, I: norwayI, RBand: norwayRBand, EBand: norwayEBand,
  },
  {
    title: 'New Zealand', box: [114, 436, 506, 685], canvas: [0, 380, 575, 370],
    xRange: [-24.3, 182], xTicks: [0, 90, 181], xLabels: ['Jan 2022', 'Apr 2022', 'Jul 2022'],
    yRange: [0, 4], yTicks: [0, 2, 4], yLabelGap: 51, rightTicks: [1.333, 2.667],
    resurgence: [2.1, 17.4], R: nzR, E: nzE, I: nzI, RBand: nzRBand, EBand: nzEBand,
    note: drawLegendNote,
  },
  {
    title: 'New York', box: [677, 436, 1069, 685], canvas: [560, 380, 550, 370],
    xRange: [-84, 273.3], xTicks: [0, 92, 182], xLabels: ['Oct 2020', '', 'Apr 2021'],
    yRange: [0.5, 2], yTicks: [0.5, 1, 1.5, 2], yLabelGap: 74, rightTicks: [],
    resurgence: [-28.3, -13.2], R: nyR, E: nyE, I: nyI, RBand: nyRBand, EBand: nyEBand,
    note: drawResurgenceNote,
  },
  {
    title: 'Illinois', box: [114, 819, 506, 1068], canvas: [0, 760, 575, 387],
    xRange: [-21.6, 153.3], xTicks: [0, 62, 123], xLabels: ['Jul', 'Sep', 'Nov'], year: '2021',
    yRange: [0.5, 2], yTicks: [0.5, 1, 1.5, 2], yLabelGap: 74, rightTicks: [1.25],
    resurgence: [-10.1, 4.8], R: ilR, E: ilE, I: ilI, RBand: ilRBand, EBand: ilEBand,
  },
  {
    title: 'UK regions', box: [678, 819, 1069, 1068], canvas: [560, 760, 550, 387],
    xRange: [-6.6, 213.5], xTicks: [0, 31, 61, 92, 123, 153, 184], xLabels: MONTHS_ODD, year: '2021',
    yRange: [0.5, 2], yTicks: [0.5, 1, 1.5, 2], yLabelGap: 74, rightTicks: [1.17, 1.84],
    resurgence: [15, 30], R: ukR, E: ukE, I: ukI,
  },
];

function decorPlugin(p: PanelSpec) {
  const [L, T, R, B] = p.box;
  const [cx, cy] = p.canvas;
  return {
    id: 'panelDecor',
    beforeDatasetsDraw(chart: Chart) {
      const { ctx, chartArea: a } = chart;
      const xs = chart.scales.x;
      const ys = chart.scales.y;
      ctx.save();
      ctx.strokeStyle = '#c6c6c6';
      ctx.lineWidth = 1.5;
      ctx.setLineDash([9, 6]);
      for (const d of p.resurgence) {
        const px = xs.getPixelForValue(d);
        ctx.beginPath();
        ctx.moveTo(px, a.top);
        ctx.lineTo(px, a.bottom);
        ctx.stroke();
      }
      ctx.strokeStyle = '#333333';
      ctx.lineWidth = 1.4;
      ctx.setLineDash([12, 7]);
      const py = ys.getPixelForValue(1);
      ctx.beginPath();
      ctx.moveTo(a.left, py);
      ctx.lineTo(a.right, py);
      ctx.stroke();
      ctx.restore();
    },
    afterDraw(chart: Chart) {
      const { ctx, chartArea: a } = chart;
      const xs = chart.scales.x;
      const ys = chart.scales.y;
      ctx.save();
      // inward tick marks
      ctx.lineWidth = 1;
      ctx.strokeStyle = BOTTOM_AXIS;
      for (const d of p.xTicks) {
        const px = Math.round(xs.getPixelForValue(d)) + 0.5;
        if (px <= a.left + 1 || px >= a.right - 1) continue;
        ctx.beginPath();
        ctx.moveTo(px, a.bottom);
        ctx.lineTo(px, a.bottom - 5);
        ctx.stroke();
      }
      ctx.strokeStyle = LEFT_AXIS;
      for (const v of p.yTicks) {
        const py = Math.round(ys.getPixelForValue(v)) + 0.5;
        ctx.beginPath();
        ctx.moveTo(a.left, py);
        ctx.lineTo(a.left + 5, py);
        ctx.stroke();
      }
      // right-hand axis of the incidence curve
      ctx.strokeStyle = RIGHT_AXIS;
      ctx.lineWidth = 1.3;
      ctx.beginPath();
      ctx.moveTo(a.right, a.top);
      ctx.lineTo(a.right, a.bottom);
      ctx.stroke();
      ctx.lineWidth = 1;
      for (const v of [p.yRange[1], ...p.rightTicks]) {
        const py = Math.round(ys.getPixelForValue(v)) + 0.5;
        ctx.beginPath();
        ctx.moveTo(a.right, py);
        ctx.lineTo(a.right - 6, py);
        ctx.stroke();
      }

      // texts in page coordinates
      ctx.translate(-cx, -cy);
      ctx.fillStyle = INK;
      ctx.textAlign = 'center';
      ctx.textBaseline = 'alphabetic';
      ctx.font = `35px ${SERIF}`;
      ctx.fillText(p.title, (L + R) / 2, T - 18);

      if (p.year) {
        ctx.fillStyle = TICK_INK;
        ctx.textAlign = 'right';
        ctx.font = `${TICK_SIZE}px ${SERIF}`;
        ctx.fillText(p.year, R - 11, B + 76);
      }

      // y-axis label
      ctx.save();
      ctx.fillStyle = INK;
      ctx.translate(L - p.yLabelGap, (T + B) / 2);
      ctx.rotate(-Math.PI / 2);
      const ylab: Piece[] = [
        { t: 'X', it: true, hat: true, gap: 5 },
        { t: '(', gap: 2 },
        { t: 't', it: true, gap: 3 },
        { t: ')' },
      ];
      const w = drawPieces(ctx, 0, 0, 37, ylab, true);
      drawPieces(ctx, -w / 2, 0.33 * 37, 37, ylab);
      ctx.restore();

      if (p.note) p.note(ctx);
      ctx.restore();
    },
  };
}

function buildChart(canvas: HTMLCanvasElement, p: PanelSpec) {
  const [L, T, R, B] = p.box;
  const [cx, cy, cw, ch] = p.canvas;
  const datasets: any[] = [];
  const line = (data: Pt[], color: string, order: number) => ({
    data, borderColor: color, borderWidth: 2.3, pointRadius: 0, fill: false, order,
    cubicInterpolationMode: 'monotone',
  });
  const band = (b: Band[], color: string, order: number) => [
    {
      data: b.map((r) => [r[0], r[2]]), borderWidth: 0, borderColor: 'transparent', pointRadius: 0,
      fill: '+1', backgroundColor: color, order, cubicInterpolationMode: 'monotone',
    },
    {
      data: b.map((r) => [r[0], r[1]]), borderWidth: 0, borderColor: 'transparent', pointRadius: 0,
      fill: false, order, cubicInterpolationMode: 'monotone',
    },
  ];
  datasets.push(line(p.E, '#ff0000', 0));
  if (p.EBand) datasets.push(...band(p.EBand, 'rgba(255,0,0,0.12)', 1));
  datasets.push(line(p.R, '#0000ff', 2));
  if (p.RBand) datasets.push(...band(p.RBand, 'rgba(0,0,255,0.10)', 3));
  datasets.push(line(p.I, '#000000', 4));

  const font = { family: SERIF, size: TICK_SIZE };
  return new Chart(canvas, {
    type: 'line',
    data: { datasets },
    options: {
      animation: false,
      responsive: false,
      events: [],
      layout: { padding: { left: 0, top: T - cy, right: cx + cw - R, bottom: 0 }, autoPadding: false },
      plugins: { legend: { display: false }, tooltip: { enabled: false }, title: { display: false } },
      scales: {
        x: {
          type: 'linear', min: p.xRange[0], max: p.xRange[1],
          grid: { display: false, drawTicks: false },
          border: { display: true, color: BOTTOM_AXIS, width: 1.2 },
          ticks: {
            autoSkip: false, maxRotation: 0, minRotation: 0, padding: 8, color: TICK_INK, font,
            callback: (_v: any, i: number) => p.xLabels[i] ?? '',
          },
          afterBuildTicks: (s: any) => { s.ticks = p.xTicks.map((v) => ({ value: v })); },
          afterFit: (s: any) => {
            s.height = cy + ch - B;
            s.paddingLeft = 0; s.paddingRight = 0;
          },
        },
        y: {
          type: 'linear', min: p.yRange[0], max: p.yRange[1],
          grid: { display: false, drawTicks: false },
          border: { display: true, color: LEFT_AXIS, width: 1.3 },
          ticks: { padding: 10, color: TICK_INK, font, callback: (v: any) => String(v) },
          afterBuildTicks: (s: any) => { s.ticks = p.yTicks.map((v) => ({ value: v })); },
          afterFit: (s: any) => {
            s.width = L - cx;
            s.paddingTop = 0; s.paddingBottom = 0;
          },
        },
      },
    } as any,
    plugins: [decorPlugin(p)],
  });
}

function PanelChart({ spec }: { spec: PanelSpec }) {
  const ref = useRef<HTMLCanvasElement>(null);
  useEffect(() => {
    const chart = buildChart(ref.current as HTMLCanvasElement, spec);
    return () => chart.destroy();
  }, [spec]);
  const [cx, cy, cw, ch] = spec.canvas;
  return (
    <canvas
      ref={ref}
      width={cw}
      height={ch}
      style={{ position: 'absolute', left: cx, top: cy, width: cw, height: ch }}
    />
  );
}

export default function App() {
  return (
    <div style={{ position: 'absolute', left: 0, top: 0, width: 1110, height: 1147, background: '#ffffff', overflow: 'hidden' }}>
      {panels.map((p) => (
        <PanelChart key={p.title} spec={p} />
      ))}
    </div>
  );
}
